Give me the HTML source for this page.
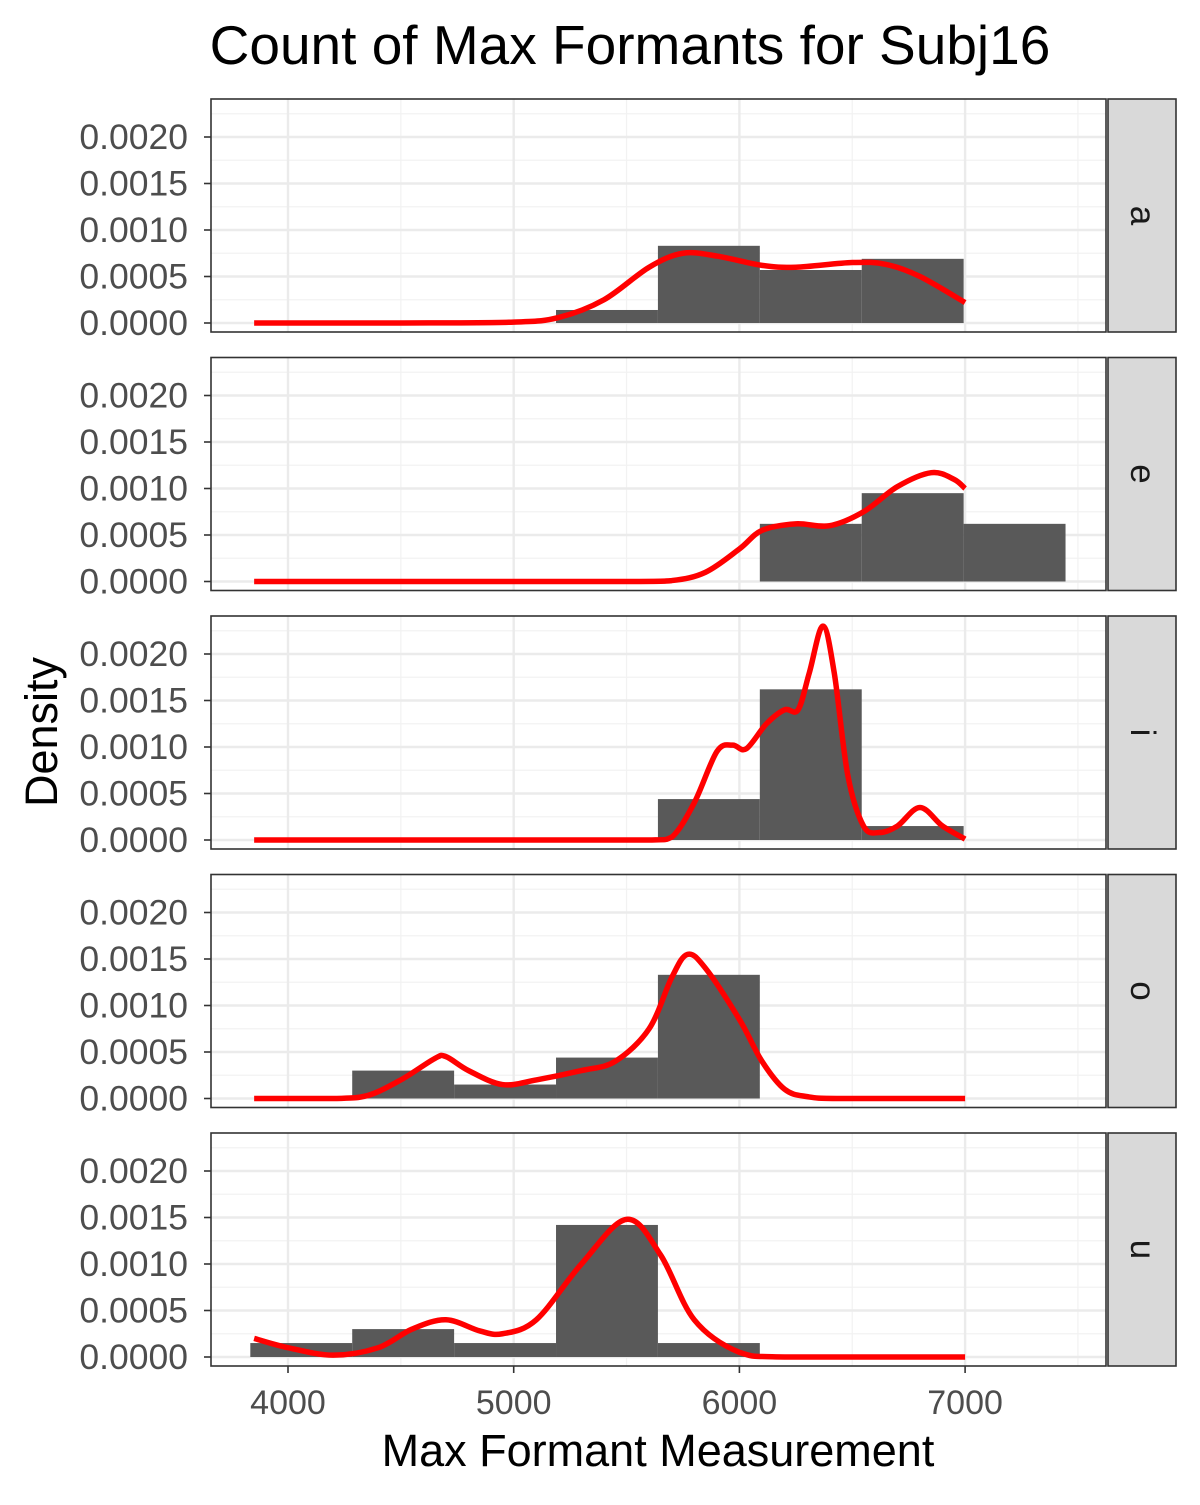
<!DOCTYPE html>
<html><head><meta charset="utf-8"><style>
html,body{margin:0;padding:0;background:#fff;}
svg text{font-family:"Liberation Sans",Arial,sans-serif;}
</style></head><body>
<svg id="chart" width="1200" height="1500" viewBox="0 0 1200 1500" xmlns="http://www.w3.org/2000/svg">
<rect width="1200" height="1500" fill="#fff"/>
<text x="630" y="64" font-size="55" text-anchor="middle" fill="#000">Count of Max Formants for Subj16</text>
<text x="658" y="1466" font-size="45" text-anchor="middle" fill="#000">Max Formant Measurement</text>
<text transform="translate(57,732) rotate(-90)" font-size="45" text-anchor="middle" fill="#000">Density</text>
<g id="panels"></g>
</svg>
<script>
const facets = ["a","e","i","o","u"];
const binEdges = [3833,4284.5,4736,5187.5,5639,6090.5,6542,6993.5,7445];
const histA = [0,0,0,0.00014,0.00083,0.00057,0.00069,0];
const histE = [0,0,0,0,0,0.00062,0.00095,0.00062];
const histI = [0,0,0,0,0.00044,0.00162,0.00015,0];
const histO = [0,0.0003,0.00015,0.00044,0.00133,0,0,0];
const histU = [0.00015,0.0003,0.00015,0.00142,0.00015,0,0,0];
const densX_A = [3850,4500,5000,5200,5400,5600,5750,5900,6100,6250,6500,6650,6800,7000];
const densY_A = [0,0,0.00001,0.00006,0.00025,0.0006,0.00075,0.00072,0.00062,0.0006,0.00065,0.00063,0.0005,0.00022];
const densX_E = [3850,5500,5700,5850,6000,6100,6250,6400,6550,6700,6850,6950,7000];
const densY_E = [0,0,0.00001,0.0001,0.00035,0.00055,0.00062,0.0006,0.00075,0.00102,0.00117,0.0011,0.001];
const densX_I = [3850,5600,5700,5800,5900,5970,6030,6120,6200,6260,6310,6370,6420,6480,6550,6620,6700,6800,6900,7000];
const densY_I = [0,0,0.00003,0.0004,0.00095,0.00102,0.00098,0.00125,0.0014,0.0014,0.0018,0.0023,0.0018,0.0007,0.00015,0.00008,0.00015,0.00035,0.00015,0.00001];
const densX_O = [3850,4200,4350,4500,4650,4700,4800,4950,5100,5300,5450,5600,5700,5770,5850,6000,6100,6200,6300,6450,7000];
const densY_O = [0,0,0.00003,0.0002,0.00043,0.00045,0.0003,0.00015,0.0002,0.0003,0.0004,0.00075,0.0013,0.00155,0.0014,0.00085,0.0004,0.0001,0.00002,0,0];
const densX_U = [3850,4000,4200,4400,4550,4700,4850,4950,5100,5300,5500,5650,5800,6000,6200,7000];
const densY_U = [0.0002,0.0001,0.00002,0.0001,0.0003,0.0004,0.00028,0.00025,0.0004,0.001,0.00148,0.0011,0.0004,0.00005,0,0];
const xTicks = [4000,5000,6000,7000];
const xMinor = [4500,5500,6500,7500];
const yTicks = [0,0.0005,0.001,0.0015,0.002];
const yTickLabels = ["0.0000","0.0005","0.0010","0.0015","0.0020"];
const yMinor = [0.00025,0.00075,0.00125,0.00175,0.00225];

const hists=[histA,histE,histI,histO,histU];
const dxs=[densX_A,densX_E,densX_I,densX_O,densX_U];
const dys=[densY_A,densY_E,densY_I,densY_O,densY_U];
const NS="http://www.w3.org/2000/svg";
const L=211,R=1106,PH=233,tops=[99,357.5,616,874.5,1133];
const xs=v=>288+(v-4000)*0.2257;
function mk(tag,attrs,parent){const e=document.createElementNS(NS,tag);for(const k in attrs)e.setAttribute(k,attrs[k]);parent.appendChild(e);return e;}
const root=document.getElementById('panels');
facets.forEach((f,i)=>{
  const top=tops[i];
  const ys=v=>top+224-v*93000;
  const base=ys(0);
  const g=mk('g',{},root);
  
  
  yMinor.forEach(v=>{const y=ys(v);if(y>top)mk('line',{x1:L,x2:R,y1:y,y2:y,stroke:'#F2F2F2','stroke-width':1.2},g);});
  xMinor.forEach(v=>{const x=xs(v);mk('line',{x1:x,x2:x,y1:top,y2:top+PH,stroke:'#F2F2F2','stroke-width':1.2},g);});
  yTicks.forEach(v=>{const y=ys(v);mk('line',{x1:L,x2:R,y1:y,y2:y,stroke:'#EBEBEB','stroke-width':2.4},g);});
  xTicks.forEach(v=>{const x=xs(v);mk('line',{x1:x,x2:x,y1:top,y2:top+PH,stroke:'#EBEBEB','stroke-width':2.4},g);});
  hists[i].forEach((h,b)=>{
    if(h<=0)return;
    const r=mk('rect',{x:xs(binEdges[b]),y:ys(h),width:xs(binEdges[b+1])-xs(binEdges[b]),height:ys(0)-ys(h),fill:'#595959'},g);
    
    
  });
  const px=dxs[i].map(xs),py=dys[i].map(ys);
  let d='M'+px[0]+','+py[0];
  const cl=y=>Math.min(y,base);
  for(let k=0;k<px.length-1;k++){
    const x0=px[Math.max(k-1,0)],y0=py[Math.max(k-1,0)],x1=px[k],y1=py[k],x2=px[k+1],y2=py[k+1],x3=px[Math.min(k+2,px.length-1)],y3=py[Math.min(k+2,px.length-1)];
    let c1x=x1+(x2-x0)/6, c2x=x2-(x3-x1)/6;
    c1x=Math.min(Math.max(c1x,x1),x2); c2x=Math.min(Math.max(c2x,x1),x2);
    d+=' C'+c1x+','+cl(y1+(y2-y0)/6)+' '+c2x+','+cl(y2-(y3-y1)/6)+' '+x2+','+y2;
  }
  const p=mk('path',{d:d,fill:'none',stroke:'#FF0000','stroke-width':5.5,'stroke-linejoin':'round'},g);
  
  
  mk('rect',{x:L,y:top,width:R-L,height:PH,fill:'none',stroke:'#333','stroke-width':1.6},g);
  yTicks.forEach((v,k)=>{const y=ys(v);mk('line',{x1:L-7,x2:L,y1:y,y2:y,stroke:'#333','stroke-width':1.6},g);
    const t=mk('text',{x:L-23,y:y+12,'font-size':35.5,'text-anchor':'end',fill:'#4D4D4D'},g);t.textContent=yTickLabels[k];
    
    });
  const s=mk('rect',{x:1108,y:top,width:68,height:PH,fill:'#D9D9D9',stroke:'#333','stroke-width':1.6},g);
  
  
  const st=mk('text',{transform:'translate(1131,'+(top+PH/2)+') rotate(90)','font-size':35,'text-anchor':'middle',fill:'#1A1A1A'},g);
  st.textContent=f;
  
  
});
const bottom=tops[4]+PH;
xTicks.forEach(v=>{const x=xs(v);mk('line',{x1:x,x2:x,y1:bottom,y2:bottom+7,stroke:'#333','stroke-width':1.6},root);
  const t=mk('text',{x:x,y:bottom+48,'font-size':34,'text-anchor':'middle',fill:'#4D4D4D'},root);t.textContent=v;
  
  });
</script>
</body></html>
